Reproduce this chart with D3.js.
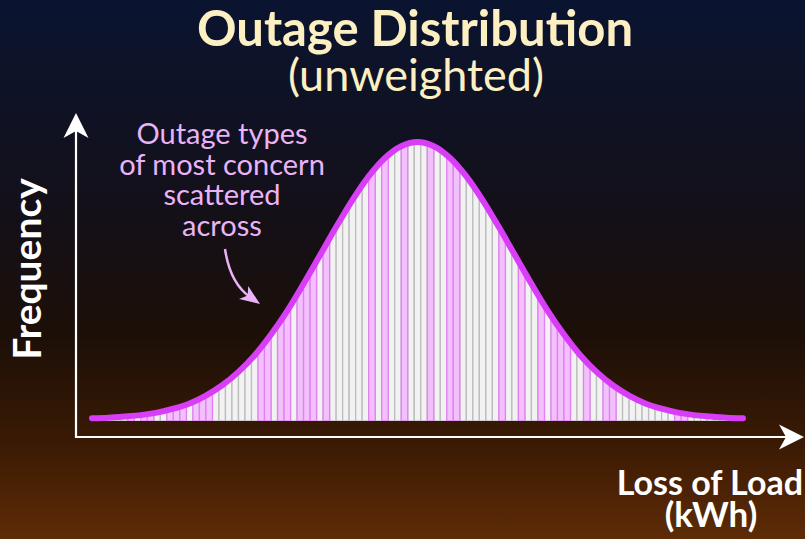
<!DOCTYPE html>
<meta charset="utf-8">
<head>
	<title>Outage Distribution</title>
	<script type="text/javascript" src="https://cdn.jsdelivr.net/npm/d3@7"></script>
	<style>
		body { margin: 0; background: #000; }
		.title { font-family: Lato, sans-serif; fill: #fcefc2; text-anchor: middle; }
		.axis-label { font-family: Lato, sans-serif; font-weight: bold; fill: #fff; }
		.note { font-family: Lato, sans-serif; fill: #e9b3f6; text-anchor: middle; font-size: 29px; }
	</style>
</head>
<body>
	<div id="chart"></div>
	<script>
		// bins along the loss-of-load axis (one bar per bin)
		var bins = d3.range(0, 101);
		// bins that hold the outage types of most concern (pink)
		var concernBins = [6, 8, 9, 12, 13, 14, 16, 17, 18, 26, 27, 29, 30, 32, 33, 34, 36,
			43, 45, 48, 52, 55, 56, 63, 66, 69, 71, 72, 73, 76, 79, 80, 90, 91];
		// frequency curve
		var curveX = [0, 2.5, 5, 7.5, 10, 12.5, 15, 17.5, 20, 22.5, 25, 27.5, 30, 32.5, 35, 37.5, 40, 42.5, 45, 47.5, 50,
			52.5, 55, 57.5, 60, 62.5, 65, 67.5, 70, 72.5, 75, 77.5, 80, 82.5, 85, 87.5, 90, 92.5, 95, 97.5, 100];
		var curveY = [1.0, 1.2, 1.6, 2.1, 3.0, 4.4, 6.3, 9.1, 12.8, 17.6, 23.6, 31.0, 39.5, 49.2, 59.3, 69.5, 79.2, 87.7, 94.3, 98.5, 100,
			98.5, 94.3, 87.7, 79.2, 69.5, 59.3, 49.2, 39.5, 31.0, 23.6, 17.6, 12.8, 9.1, 6.3, 4.4, 3.0, 2.1, 1.6, 1.2, 1.0];
		var titleText = "Outage Distribution";
		var subtitleText = "(unweighted)";
		var noteLines = ["Outage types", "of most concern", "scattered", "across"];

		var width = 805, height = 539;
		var svg = d3.select("#chart").append("svg")
			.attr("width", width).attr("height", height);

		var defs = svg.append("defs");
		var grad = defs.append("linearGradient").attr("id", "bg")
			.attr("x1", 0).attr("y1", 0).attr("x2", 0).attr("y2", 1);
		grad.append("stop").attr("offset", "0%").attr("stop-color", "#0a1430");
		grad.append("stop").attr("offset", "40%").attr("stop-color", "#141018");
		grad.append("stop").attr("offset", "62%").attr("stop-color", "#1c0f08");
		grad.append("stop").attr("offset", "82%").attr("stop-color", "#3a1a04");
		grad.append("stop").attr("offset", "100%").attr("stop-color", "#5e2b06");
		svg.append("rect").attr("width", width).attr("height", height).attr("fill", "url(#bg)");

		var x = d3.scaleLinear().domain([0, 100]).range([92, 743]);
		var y = d3.scaleLinear().domain([0, 100]).range([421, 142]);
		var pts = curveX.map(function (d, i) { return [d, curveY[i]]; });

		var area = d3.area().x(function (d) { return x(d[0]); })
			.y0(y(0)).y1(function (d) { return y(d[1]); })
			.curve(d3.curveCatmullRom);
		var line = d3.line().x(function (d) { return x(d[0]); })
			.y(function (d) { return y(d[1]); })
			.curve(d3.curveCatmullRom);

		defs.append("clipPath").attr("id", "under")
			.append("path").attr("d", area(pts));

		var bw = x(1) - x(0);
		var bars = svg.append("g").attr("clip-path", "url(#under)");
		var sorted = bins.slice().sort(function (a, b) {
			return (concernBins.indexOf(a) >= 0) - (concernBins.indexOf(b) >= 0);
		});
		bars.selectAll("rect").data(sorted).enter().append("rect")
			.attr("x", function (d) { return x(d) - bw / 2; })
			.attr("y", y(102))
			.attr("width", bw)
			.attr("height", y(0) - y(102))
			.attr("fill", function (d) { return concernBins.indexOf(d) >= 0 ? "#f2c0fb" : "#f2f2f2"; })
			.attr("stroke", function (d) { return concernBins.indexOf(d) >= 0 ? "#e37ff5" : "#bdbdbd"; })
			.attr("stroke-width", 1.3);

		svg.append("path").attr("d", line(pts))
			.attr("fill", "none").attr("stroke", "#d93ef7")
			.attr("stroke-width", 6).attr("stroke-linecap", "round");

		// stealth arrowhead
		function arrowHead(tx, ty, angle, len, half, notch, color) {
			var c = Math.cos(angle), s = Math.sin(angle);
			function p(a, b) { return [tx + a * c - b * s, ty + a * s + b * c]; }
			var poly = [p(0, 0), p(-len, -half), p(-len + notch, 0), p(-len, half)];
			svg.append("path").attr("d", "M" + poly.join("L") + "Z").attr("fill", color);
		}

		// axes
		svg.append("line").attr("x1", 76).attr("y1", 438).attr("x2", 76).attr("y2", 125)
			.attr("stroke", "#fff").attr("stroke-width", 2.2);
		arrowHead(76, 113, -Math.PI / 2, 25, 12.5, 7, "#fff");
		svg.append("line").attr("x1", 75).attr("y1", 437).attr("x2", 792).attr("y2", 437)
			.attr("stroke", "#fff").attr("stroke-width", 2.2);
		arrowHead(804, 437, 0, 25, 12.5, 7, "#fff");

		// titles
		svg.append("text").attr("class", "title").attr("x", 415).attr("y", 46)
			.style("font-weight", "bold").style("font-size", "49px").text(titleText);
		svg.append("text").attr("class", "title").attr("x", 416).attr("y", 91)
			.style("font-size", "45px").text(subtitleText);

		svg.append("text").attr("class", "axis-label")
			.attr("transform", "translate(41,269) rotate(-90)")
			.attr("text-anchor", "middle").style("font-size", "39px").text("Frequency");
		svg.append("text").attr("class", "axis-label").attr("x", 803).attr("y", 495)
			.attr("text-anchor", "end").style("font-size", "34px").text("Loss of Load");
		svg.append("text").attr("class", "axis-label").attr("x", 711).attr("y", 527)
			.attr("text-anchor", "middle").style("font-size", "35px").text("(kWh)");

		// annotation
		svg.append("g").selectAll("text").data(noteLines).enter().append("text")
			.attr("class", "note").attr("x", 222)
			.attr("y", function (d, i) { return 144 + i * 30.5; })
			.text(function (d) { return d; });
		svg.append("path").attr("d", "M225,249 Q230,283 250,297")
			.attr("fill", "none").attr("stroke", "#e9b3f6").attr("stroke-width", 2.5);
		arrowHead(260, 304, Math.atan2(7, 10), 20, 8, 5, "#e9b3f6");
	</script>
</body>
</html>
